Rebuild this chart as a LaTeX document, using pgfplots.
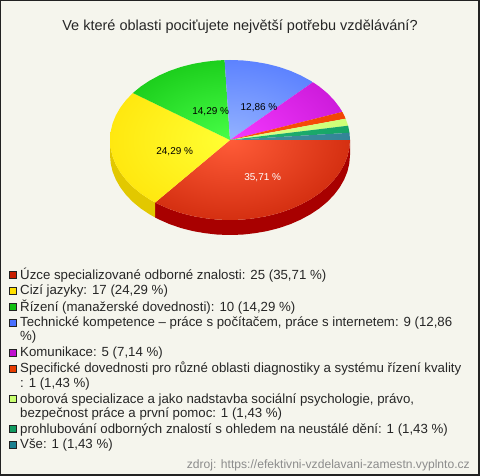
\documentclass[border=0pt]{standalone}
\usepackage{pgfplots}
\pgfplotsset{compat=1.18}
\usepackage{fontspec}
\setmainfont{Liberation Sans}
\pgfdeclareradialshading{wred}{\pgfpoint{0bp}{0bp}}{rgb(0bp)=(1,0.36,0.22); rgb(36bp)=(0.76,0.11,0); rgb(100bp)=(0.76,0.11,0)}
\pgfdeclareradialshading{wyel}{\pgfpoint{0bp}{0bp}}{rgb(0bp)=(1,1,0.2); rgb(36bp)=(1,0.87,0); rgb(100bp)=(1,0.87,0)}
\pgfdeclareradialshading{wgre}{\pgfpoint{0bp}{0bp}}{rgb(0bp)=(0.28,1,0.28); rgb(36bp)=(0.04,0.73,0.04); rgb(100bp)=(0.04,0.73,0.04)}
\pgfdeclareradialshading{wblu}{\pgfpoint{0bp}{0bp}}{rgb(0bp)=(0.58,0.70,1); rgb(36bp)=(0.27,0.43,1); rgb(100bp)=(0.27,0.43,1)}
\pgfdeclareradialshading{wmag}{\pgfpoint{0bp}{0bp}}{rgb(0bp)=(0.96,0.22,1); rgb(36bp)=(0.74,0.06,0.80); rgb(100bp)=(0.74,0.06,0.80)}
\pgfdeclareradialshading{wora}{\pgfpoint{0bp}{0bp}}{rgb(0bp)=(1,0.33,0.05); rgb(36bp)=(0.92,0.24,0); rgb(100bp)=(0.92,0.24,0)}
\pgfdeclareradialshading{wlgr}{\pgfpoint{0bp}{0bp}}{rgb(0bp)=(0.86,1,0.55); rgb(36bp)=(0.78,1,0.43); rgb(100bp)=(0.78,1,0.43)}
\pgfdeclareradialshading{wdgr}{\pgfpoint{0bp}{0bp}}{rgb(0bp)=(0.14,0.70,0.45); rgb(36bp)=(0.06,0.62,0.38); rgb(100bp)=(0.06,0.62,0.38)}
\pgfdeclareradialshading{wtea}{\pgfpoint{0bp}{0bp}}{rgb(0bp)=(0.28,0.56,0.62); rgb(36bp)=(0.16,0.50,0.58); rgb(100bp)=(0.16,0.50,0.58)}
\definecolor{bgc}{HTML}{F5F5ED}
\definecolor{frame}{HTML}{222222}
\definecolor{sred}{HTML}{A80000}
\definecolor{syel}{HTML}{E2C800}
\definecolor{lred}{HTML}{C81E00}
\definecolor{lyel}{HTML}{FFE000}
\definecolor{lgre}{HTML}{10C010}
\definecolor{lblu}{HTML}{4A70FF}
\definecolor{lmag}{HTML}{C010D0}
\definecolor{lora}{HTML}{E83C00}
\definecolor{llgr}{HTML}{C8FF70}
\definecolor{ldgr}{HTML}{109A60}
\definecolor{ltea}{HTML}{1A8090}
\newcommand{\legtext}[2]{\node[anchor=west,inner sep=0pt,font=\fontsize{13.25}{14}\selectfont,text=black!85,yshift=-1.5pt] at (axis cs:20,#1) {\strut #2};}
\newcommand{\pct}[4]{\node[font=\fontsize{10}{12}\selectfont,text=#4,inner sep=0pt,yshift=-1.5pt] at (axis cs:#1,#2) {#3};}
\begin{document}
\begin{tikzpicture}
\begin{axis}[
  scale only axis, width=480pt, height=476pt,
  xmin=0, xmax=480, ymin=0, ymax=476, y dir=reverse,
  axis lines=none, clip=false, unbounded coords=jump,
  axis background/.style={fill=bgc},
]
% side wall
\addplot[fill=sred,draw=none] coordinates {(350,140)(349.3,148.4)(347.4,156.6)(344.1,164.7)(339.6,172.5)(333.9,180)(327.1,187)(319.2,193.5)(310.3,199.4)(300.5,204.7)(290,209.3)(278.8,213.1)(267.1,216.1)(254.9,218.2)(242.5,219.6)(230,220)(217.5,219.6)(205.1,218.2)(192.9,216.1)(181.2,213.1)(170,209.3)(159.5,204.7)(155.2,202.5)
 (155.2,217.5)(159.5,219.7)(170,224.3)(181.2,228.1)(192.9,231.1)(205.1,233.2)(217.5,234.6)(230,235)(242.5,234.6)(254.9,233.2)(267.1,231.1)(278.8,228.1)(290,224.3)(300.5,219.7)(310.3,214.4)(319.2,208.5)(327.1,202)(333.9,195)(339.6,187.5)(344.1,179.7)(347.4,171.6)(349.3,163.4)(350,155)} --cycle;
\addplot[fill=syel,draw=none] coordinates {(155.2,202.5)(149.7,199.4)(140.8,193.5)(132.9,187)(126.1,180)(120.4,172.5)(115.9,164.7)(112.6,156.6)(110.7,148.4)(110,140)
 (110,155)(110.7,163.4)(112.6,171.6)(115.9,179.7)(120.4,187.5)(126.1,195)(132.9,202)(140.8,208.5)(149.7,214.4)(155.2,217.5)} --cycle;
% top wedges
\addplot[shade,shading=wred,draw=none] coordinates {(110,60)(nan,nan)(350,220)(nan,nan)(230,140)(350,140)(349.3,148.4)(347.4,156.6)(344.1,164.7)(339.6,172.5)(333.9,180)(327.1,187)(319.2,193.5)(310.3,199.4)(300.5,204.7)(290,209.3)(278.8,213.1)(267.1,216.1)(254.9,218.2)(242.5,219.6)(230,220)(217.5,219.6)(205.1,218.2)(192.9,216.1)(181.2,213.1)(170,209.3)(159.5,204.7)(155.2,202.5)} --cycle;
\addplot[shade,shading=wyel,draw=none] coordinates {(110,60)(nan,nan)(350,220)(nan,nan)(230,140)(155.2,202.5)(149.7,199.4)(140.8,193.5)(132.9,187)(126.1,180)(120.4,172.5)(115.9,164.7)(112.6,156.6)(110.7,148.4)(110,140)(110.7,131.6)(112.6,123.4)(115.9,115.3)(120.4,107.5)(126.1,100)(132.9,93)} --cycle;
\addplot[shade,shading=wgre,draw=none] coordinates {(110,60)(nan,nan)(350,220)(nan,nan)(230,140)(132.9,93)(140.8,86.5)(149.7,80.6)(159.5,75.3)(170,70.7)(181.2,66.9)(192.9,63.9)(205.1,61.8)(217.5,60.4)(224.6,60.1)} --cycle;
\addplot[shade,shading=wblu,draw=none] coordinates {(110,60)(nan,nan)(350,220)(nan,nan)(230,140)(224.6,60.1)(230,60)(242.5,60.4)(254.9,61.8)(267.1,63.9)(278.8,66.9)(290,70.7)(300.5,75.3)(310.3,80.6)(312.9,82.2)} --cycle;
\addplot[shade,shading=wmag,draw=none] coordinates {(110,60)(nan,nan)(350,220)(nan,nan)(230,140)(312.9,82.2)(319.2,86.5)(327.1,93)(333.9,100)(339.6,107.5)(342.4,111.9)} --cycle;
\addplot[shade,shading=wora,draw=none] coordinates {(110,60)(nan,nan)(350,220)(nan,nan)(230,140)(342.4,111.9)(345.7,118.7)} --cycle;
\addplot[shade,shading=wlgr,draw=none] coordinates {(110,60)(nan,nan)(350,220)(nan,nan)(230,140)(345.7,118.7)(348.1,125.7)} --cycle;
\addplot[shade,shading=wdgr,draw=none] coordinates {(110,60)(nan,nan)(350,220)(nan,nan)(230,140)(348.1,125.7)(349.5,132.8)} --cycle;
\addplot[shade,shading=wtea,draw=none] coordinates {(110,60)(nan,nan)(350,220)(nan,nan)(230,140)(349.5,132.8)(350,140)} --cycle;
% percentages
\pct{262.7}{176}{35,71 \%}{white}
\pct{174.7}{150}{24,29 \%}{black}
\pct{210.7}{110}{14,29 \%}{black}
\pct{259}{106}{12,86 \%}{black}
% legend markers
\pgfplotsset{legmark/.style={only marks,mark=square*,mark size=3.6pt,mark options={draw=frame,line width=0.7pt,fill=#1}}}
\addplot[legmark=lred] coordinates {(13,274.5)};
\addplot[legmark=lyel] coordinates {(13,290.5)};
\addplot[legmark=lgre] coordinates {(13,306.5)};
\addplot[legmark=lblu] coordinates {(13,322.5)};
\addplot[legmark=lmag] coordinates {(13,352.5)};
\addplot[legmark=lora] coordinates {(13,368.5)};
\addplot[legmark=llgr] coordinates {(13,398.5)};
\addplot[legmark=ldgr] coordinates {(13,428.5)};
\addplot[legmark=ltea] coordinates {(13,444.5)};
% legend text
\legtext{274}{Úzce specializované odborné znalosti: 25 (35,71 \%)}
\legtext{290}{Cizí jazyky: 17 (24,29 \%)}
\legtext{306}{Řízení (manažerské dovednosti): 10 (14,29 \%)}
\legtext{322}{Technické kompetence – práce s počítačem, práce s internetem: 9 (12,86}
\legtext{336.7}{\%)}
\legtext{352}{Komunikace: 5 (7,14 \%)}
\legtext{368}{Specifické dovednosti pro různé oblasti diagnostiky a systému řízení kvality}
\legtext{382.7}{: 1 (1,43 \%)}
\legtext{398.7}{oborová specializace a jako nadstavba sociální psychologie, právo,}
\legtext{412.7}{bezpečnost práce a první pomoc: 1 (1,43 \%)}
\legtext{428.7}{prohlubování odborných znalostí s ohledem na neustálé dění: 1 (1,43 \%)}
\legtext{444}{Vše: 1 (1,43 \%)}
% title and source
\node[font=\fontsize{14.5}{16}\selectfont,text=black!85,inner sep=0pt] at (axis cs:240,26.5) {Ve které oblasti pociťujete největší potřebu vzdělávání?};
\node[font=\fontsize{12.1}{14}\selectfont,text=black!45,anchor=east,inner sep=0pt] at (axis cs:470,465) {zdroj: https://efektivni-vzdelavani-zamestn.vyplnto.cz};
% frame
\draw[frame,line width=1pt] (axis cs:0.5,0.5) rectangle (axis cs:479.5,475.5);
\draw[frame,line width=1pt] (axis cs:478.5,0.5) -- (axis cs:478.5,475.5);
\draw[frame,line width=1pt] (axis cs:0.5,474.5) -- (axis cs:479.5,474.5);
\end{axis}
\end{tikzpicture}
\end{document}
